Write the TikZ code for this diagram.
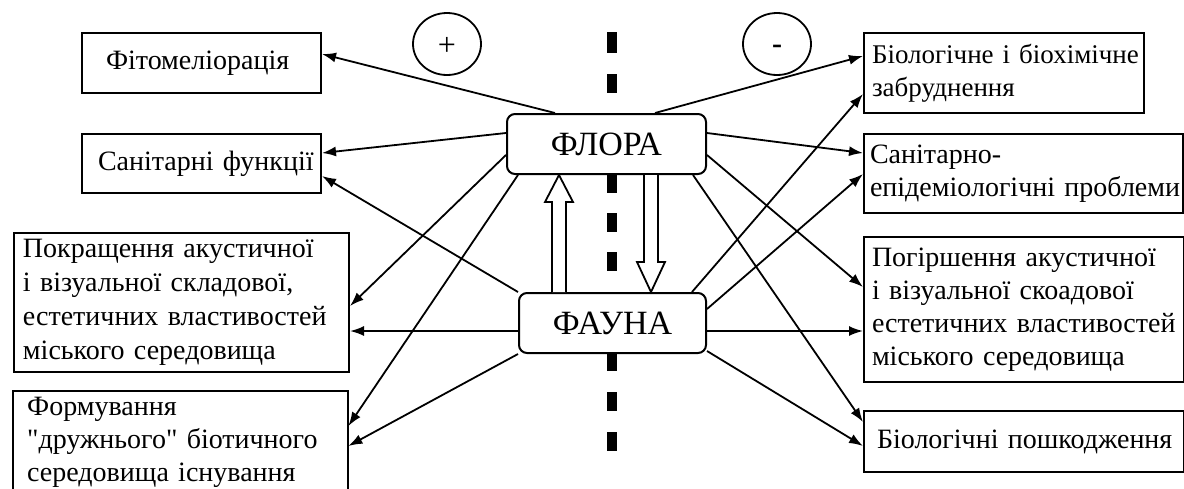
\documentclass[tikz,border=0pt]{standalone}
\usepackage{fontspec}
\setmainfont{Liberation Serif}[Ligatures=TeXOff]
\usetikzlibrary{arrows.meta,shapes.geometric}
\begin{document}
\begin{tikzpicture}[x=1pt,y=-1pt,
  box/.style={draw, line width=2pt, fill=white, anchor=north west, align=left, inner ysep=0pt, font=\fontsize{28}{33}\selectfont},
  plainbox/.style={anchor=north west, align=left, inner ysep=6pt, inner xsep=14pt, font=\fontsize{28}{33}\selectfont},
  hub/.style={draw, line width=2pt, fill=white, rounded corners=8pt, anchor=north west, inner sep=0pt, font=\fontsize{34}{40}\selectfont},
  conn/.style={line width=1.8pt, -{Latex[length=14pt,width=10pt]}},
  sign/.style={draw, ellipse, line width=1.8pt, minimum width=68pt, minimum height=62pt, inner sep=0pt},
  hollow/.style={draw, line width=1.8pt, fill=white, line join=miter},
  divider/.style={line width=10pt}
]
\useasboundingbox (0,0) rectangle (1184,488);
\clip (0,0) rectangle (1184,488);
\fill[white] (0,0) rectangle (1184,488);

% dashed separator
\foreach \a/\b in {32/53,74/93,173/193,213/232,252/271,352/371,392/411,432/451}
  \draw[divider] (612,\a) -- (612,\b);

% sign circles
\node[sign, font=\fontsize{32}{32}\selectfont] (plus) at (447,44) {\raisebox{-11pt}[0pt][0pt]{+}};
\node[sign, font=\fontsize{30}{30}\selectfont\bfseries] (minus) at (777,44) {\raisebox{-9pt}[0pt][0pt]{-}};

% hubs
\node[hub, minimum width=199pt, minimum height=60pt] (flora) at (506,113) {ФЛОРА};
\node[hub, minimum width=187pt, minimum height=60pt] (fauna) at (518,292) {ФАУНА};

% left boxes
\node[box, minimum height=60pt, inner xsep=24pt, text width=191pt] (fito) at (81,32) {Фітомеліорація};
\node[box, minimum height=59pt, inner xsep=16pt, text width=207pt] (sanf) at (81,133) {Санітарні~функції};
\node[box, minimum height=139pt, inner xsep=9pt, text width=317pt, font=\fontsize{28}{34}\selectfont] (pokr) at (13,232) {Покращення~акустичної\\і~візуальної~складової,\\естетичних~властивостей\\міського~середовища};
\node[plainbox, text width=307pt] (form) at (13,391) {Формування\\"дружнього"~біотичного\\середовища~існування};
\draw[line width=2pt] (form.north west) rectangle ([yshift=-40pt]form.south east);

% right boxes
\node[box, minimum height=80pt, inner xsep=8pt, text width=264pt, font=\fontsize{27}{33}\selectfont] (bioz) at (863,32) {Біологічне~і~біохімічне\\забруднення};
\node[box, minimum height=79pt, inner xsep=6pt, text width=307pt] (sanep) at (863,133) {Санітарно-\\епідеміологічні~проблеми};
\node[box, minimum height=145pt, inner xsep=8pt, text width=304pt] (pogir) at (863,236) {Погіршення~акустичної\\і~візуальної~скоадової\\естетичних~властивостей\\міського~середовища};
\node[box, minimum height=61pt, inner xsep=13pt, text width=294pt] (biop) at (863,410) {Біологічні~пошкодження};

% connectors from FLORA
\draw[conn] (flora.north -| 555,0) -- (fito.east |- 0,54);
\draw[conn] (flora.north -| 655,0) -- (bioz.west |- 0,56);
\draw[conn] (flora.west |- 0,133) -- (sanf.east |- 0,153);
\draw[conn] (flora.east |- 0,133) -- (sanep.west |- 0,153);
\draw[conn] (flora.west |- 0,155) -- (pokr.east |- 0,306);
\draw[conn] (flora.south -| 518,0) -- (form.east |- 0,426);
\draw[conn] (flora.east |- 0,155) -- (pogir.west |- 0,287);
\draw[conn] (flora.south -| 693,0) -- (biop.west |- 0,422);

% connectors from FAUNA
\draw[conn] (fauna.north west) -- (sanf.east |- 0,176);
\draw[conn] (fauna.west |- 0,331) -- (pokr.east |- 0,331);
\draw[conn] (fauna.south west) -- (form.east |- 0,446);
\draw[conn] (fauna.north -| 692,0) -- (bioz.west |- 0,94);
\draw[conn] (fauna.east |- 0,309) -- (sanep.west |- 0,174);
\draw[conn] (fauna.east |- 0,331) -- (pogir.west |- 0,331);
\draw[conn] (fauna.east |- 0,351) -- (biop.west |- 0,446);

% hollow arrows between FLORA and FAUNA
\draw[hollow] (fauna.north -| 552,0) -- (552,202) -- (545,202) -- (flora.south -| 559,0) -- (573,202) -- (566,202) -- (fauna.north -| 566,0);
\draw[hollow] (flora.south -| 644,0) -- (644,262) -- (637,262) -- (fauna.north -| 651,0) -- (665,262) -- (658,262) -- (flora.south -| 658,0);
\end{tikzpicture}
\end{document}
